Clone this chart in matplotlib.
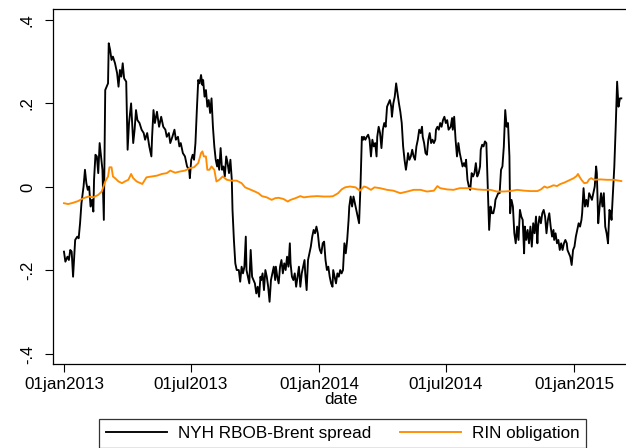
import matplotlib
matplotlib.use("Agg")
import matplotlib.pyplot as plt
import pandas as pd

plt.rcParams["font.family"] = ["Liberation Sans", "DejaVu Sans"]

# days since 01jan2013
spread_days = [
    0, 2, 5, 7, 9, 11, 13, 16, 19, 21, 23, 25, 28, 30, 32, 34, 36, 38, 40, 42,
    43, 45, 47, 49, 51, 53, 55, 57, 59, 61, 63, 64, 66, 68, 70, 73, 76, 78, 80, 82,
    84, 86, 89, 91, 93, 96, 99, 101, 103, 105, 108, 111, 114, 116, 119, 122, 125, 126, 128, 130,
    133, 136, 139, 142, 145, 147, 150, 152, 155, 158, 160, 163, 165, 167, 170, 173, 176, 179,
    180, 182, 184, 186, 188, 190, 192, 194, 196, 198, 199, 201, 203, 205, 207, 209, 211, 213, 215, 217,
    219, 220, 222, 224, 226, 228, 230, 232, 234, 236, 238, 240, 241, 243, 245, 247, 250, 252, 254, 256,
    258, 260, 261, 263, 265, 267, 269, 271, 273, 275, 277, 279, 281, 282, 284, 286, 288, 290, 292, 294,
    296, 298, 300, 302, 303, 305, 307, 309, 311, 313, 315, 317, 319, 321, 323, 324, 326, 328, 330, 332,
    334, 336, 338, 340, 342, 344, 345, 347, 349, 351, 353, 355, 357, 359, 361, 363, 365,
    366, 368, 370, 372, 374, 376, 378, 380, 382, 384, 385, 387, 389, 391, 393, 395, 397, 399, 401, 403,
    405, 407, 408, 410, 412, 414, 416, 418, 420, 422, 424, 426, 428, 429, 431, 433, 435, 437, 439, 441,
    443, 445, 447, 448, 450, 452, 454, 456, 458, 460, 462, 464, 466, 468, 469, 471, 473, 475, 477, 479,
    481, 483, 485, 487, 489, 491, 492, 494, 496, 498, 500, 502, 504, 506, 508, 510, 512, 513, 515, 517,
    519, 521, 523, 525, 527, 529, 531, 532, 534, 536, 538, 540, 542, 544, 546, 548, 550,
    553, 555, 556, 558, 560, 562, 564, 566, 568, 570, 572, 574, 575, 577, 579, 581, 583, 585, 587, 589,
    591, 593, 595, 596, 598, 600, 602, 604, 606, 608, 610, 612, 614, 616, 617, 619, 621, 623, 625, 627,
    629, 631, 633, 635, 637, 638, 640, 642, 644, 646, 648, 650, 652, 654, 656, 658, 659, 661, 663, 665,
    667, 669, 671, 673, 675, 677, 678, 680, 682, 684, 686, 688, 690, 692, 694, 696, 698, 700, 701, 703,
    705, 707, 709, 711, 713, 715, 717, 719, 720, 722, 724, 726, 728, 730, 732, 734, 736, 738, 740, 741,
    743, 745, 747, 749, 751, 753, 755, 757, 759, 761, 762, 764, 766, 768, 770, 772, 774, 776, 778, 780,
    782, 783, 785, 787, 789, 791, 793, 795, 797,
]
spread_vals = [
    -0.155, -0.179, -0.167, -0.175, -0.151, -0.155, -0.215, -0.127, -0.119, -0.123,
    -0.087, -0.039, 0.001, 0.041, 0.009, -0.007, 0.001, -0.047, -0.031, -0.059,
    0.017, 0.077, 0.073, 0.033, 0.105, 0.073, 0.041, -0.079, 0.232, 0.240,
    0.248, 0.344, 0.328, 0.304, 0.312, 0.296, 0.272, 0.240, 0.280, 0.264,
    0.296, 0.260, 0.252, 0.089, 0.153, 0.200, 0.105, 0.137, 0.184, 0.160,
    0.153, 0.137, 0.129, 0.113, 0.129, 0.097, 0.073, 0.120, 0.184, 0.153,
    0.180, 0.144, 0.168, 0.144, 0.137, 0.120, 0.129, 0.105, 0.120, 0.137,
    0.113, 0.120, 0.097, 0.105, 0.081, 0.073, 0.049, 0.041,
    0.021, 0.065, 0.077, 0.065, 0.105, 0.184, 0.256, 0.248, 0.268, 0.244,
    0.256, 0.216, 0.232, 0.192, 0.208, 0.177, 0.212, 0.144, 0.097, 0.065,
    0.049, 0.065, 0.041, 0.093, 0.041, 0.049, 0.025, 0.073, 0.057, 0.033,
    0.065, 0.017, -0.055, -0.127, -0.183, -0.199, -0.199, -0.227, -0.191, -0.207,
    -0.191, -0.119, -0.199, -0.215, -0.231, -0.151, -0.215, -0.223, -0.231, -0.255,
    -0.239, -0.263, -0.215, -0.223, -0.207, -0.247, -0.199, -0.215, -0.239, -0.275,
    -0.223, -0.207, -0.191, -0.223, -0.191, -0.215, -0.231, -0.191, -0.175, -0.207,
    -0.183, -0.199, -0.167, -0.191, -0.135, -0.183, -0.215, -0.223, -0.207, -0.239,
    -0.215, -0.191, -0.239, -0.207, -0.191, -0.175, -0.207, -0.247, -0.175, -0.159,
    -0.143, -0.119, -0.103, -0.111, -0.095, -0.111, -0.143,
    -0.151, -0.159, -0.135, -0.131, -0.175, -0.199, -0.191, -0.215, -0.231, -0.239,
    -0.199, -0.215, -0.231, -0.207, -0.215, -0.199, -0.207, -0.199, -0.135, -0.159,
    -0.127, -0.079, -0.047, -0.023, -0.047, -0.023, -0.039, -0.055, -0.071, -0.087,
    0.001, 0.120, 0.113, 0.120, 0.113, 0.120, 0.125, 0.113, 0.073, 0.113,
    0.097, 0.105, 0.073, 0.120, 0.144, 0.129, 0.093, 0.137, 0.153, 0.144,
    0.192, 0.200, 0.208, 0.192, 0.168, 0.200, 0.216, 0.248, 0.224, 0.200,
    0.180, 0.153, 0.097, 0.065, 0.041, 0.065, 0.081, 0.065, 0.073, 0.089,
    0.073, 0.065, 0.097, 0.113, 0.137, 0.129, 0.144, 0.120, 0.105, 0.081,
    0.077, 0.113, 0.129, 0.105, 0.113, 0.105, 0.113, 0.137, 0.144, 0.137,
    0.153, 0.144, 0.160, 0.168, 0.153, 0.160, 0.137,
    0.144, 0.165, 0.137, 0.168, 0.113, 0.073, 0.105, 0.081, 0.065, 0.049,
    0.057, 0.049, 0.065, 0.017, 0.001, -0.007, 0.033, 0.025, 0.033, 0.057,
    0.025, 0.033, 0.049, 0.089, 0.101, 0.097, 0.109, 0.105, 0.001, -0.103,
    -0.047, -0.063, -0.063, -0.047, -0.031, -0.023, -0.015, -0.015, 0.041, 0.049,
    0.097, 0.184, 0.144, 0.153, 0.073, -0.063, -0.031, -0.047, -0.111, -0.135,
    -0.095, -0.127, -0.055, -0.071, -0.079, -0.159, -0.095, -0.127, -0.103, -0.135,
    -0.095, -0.143, -0.087, -0.111, -0.071, -0.135, -0.095, -0.071, -0.087, -0.063,
    -0.055, -0.071, -0.111, -0.079, -0.063, -0.095, -0.119, -0.103, -0.127, -0.111,
    -0.135, -0.127, -0.151, -0.135, -0.151, -0.135, -0.127, -0.135, -0.151, -0.159,
    -0.167, -0.187, -0.151, -0.143, -0.119, -0.103, -0.087, -0.095, -0.079, -0.063,
    -0.003, -0.047, -0.031, -0.047, -0.015, -0.023, -0.031, -0.015, 0.001, 0.049,
    0.033, -0.087, -0.047, -0.015, -0.047, -0.015, -0.095, -0.111, -0.135, -0.055,
    -0.063, -0.079, -0.015, 0.049, 0.144, 0.252, 0.192, 0.212, 0.212,
]

rin_days = [
    0, 6, 13, 20, 28, 35, 42, 49, 54, 59, 63, 65, 68, 70, 73, 78, 83, 87, 92, 96,
    99, 104, 112, 118, 126, 133, 140, 147, 152, 159, 166, 173, 180, 186,
    192, 196, 198, 200, 203, 205, 208, 211, 215, 218, 222, 227, 233, 240, 247, 254,
    259, 266, 273, 278, 283, 290, 297, 302, 307, 314, 320, 324, 331, 338, 343, 352,
    362, 371, 380,
    385, 392, 397, 402, 409, 417, 423, 429, 433, 439, 444, 452, 462, 471, 481, 491,
    500, 510, 519, 529, 534, 538, 548, 557, 566,
    572, 581, 591, 600, 610, 619, 629, 638, 648, 658, 667, 677, 682, 687, 691, 696,
    700, 705, 710, 715, 719, 724, 729, 733, 735, 737, 740, 744, 748, 751, 754, 758,
    767, 777, 786, 797,
]
rin_vals = [
    -0.039, -0.041, -0.038, -0.034, -0.027, -0.023, -0.025, -0.019, -0.011, 0.013,
    0.025, 0.047, 0.047, 0.025, 0.021, 0.013, 0.009, 0.013, 0.017, 0.031,
    0.021, 0.013, 0.007, 0.023, 0.025, 0.027, 0.031, 0.033, 0.039, 0.034,
    0.037, 0.039, 0.045, 0.047,
    0.057, 0.081, 0.085, 0.073, 0.073, 0.041, 0.041, 0.049, 0.041, 0.013,
    0.017, 0.025, 0.017, 0.015, 0.015, 0.009,
    -0.001, -0.006, -0.011, -0.015, -0.022, -0.025, -0.031, -0.027, -0.026, -0.029,
    -0.035, -0.031, -0.027, -0.022, -0.025, -0.023,
    -0.022, -0.023, -0.023,
    -0.022, -0.015, -0.006, -0.001, 0.001, -0.001, -0.009, 0.001, -0.001, -0.007,
    -0.001, -0.003, -0.007, -0.009, -0.015, -0.011,
    -0.007, -0.007, -0.011, -0.009, 0.002, -0.003, -0.006, -0.007, -0.003,
    -0.003, -0.003, -0.006, -0.007, -0.007, -0.011, -0.011, -0.010, -0.007, -0.009,
    -0.010, -0.010, -0.006, 0.001, -0.002, 0.001,
    0.004, 0.002, 0.007, 0.010, 0.013, 0.017, 0.021, 0.026, 0.031, 0.025,
    0.017, 0.009, 0.010, 0.018, 0.021, 0.017,
    0.018, 0.017, 0.017, 0.014,
]

xtick_dates = ["2013-01-01", "2013-07-01", "2014-01-01", "2014-07-01", "2015-01-01"]
xtick_labels = ["01jan2013", "01jul2013", "01jan2014", "01jul2014", "01jan2015"]
ytick_vals = [-0.4, -0.2, 0, 0.2, 0.4]
ytick_labels = ["-.4", "-.2", "0", ".2", ".4"]

start = pd.Timestamp("2013-01-01")
spread_dates = start + pd.to_timedelta(spread_days, unit="D")
rin_dates = start + pd.to_timedelta(rin_days, unit="D")

fig = plt.figure(figsize=(6.26, 4.48), dpi=100)
ax = fig.add_axes([53 / 626, 1 - 364 / 448, 576 / 626, 355 / 448])

ax.plot(spread_dates, spread_vals, color="black", lw=1.35, label="NYH RBOB-Brent spread")
ax.plot(rin_dates, rin_vals, color="#ff8c00", lw=1.35, label="RIN obligation")

ax.set_xlim(start - pd.Timedelta(days=15.7), start + pd.Timedelta(days=808))
ax.set_ylim(-0.424, 0.426)

ax.set_xticks(pd.to_datetime(xtick_dates))
ax.set_xticklabels(xtick_labels, fontsize=12.3)
ax.set_yticks(ytick_vals)
ax.set_yticklabels(ytick_labels, fontsize=12, rotation=90, va="center")
ax.tick_params(length=6, width=0.8, pad=3)
ax.tick_params(axis="y", pad=7)
ax.set_xlabel("date", fontsize=12.3, labelpad=0)

for s in ax.spines.values():
    s.set_linewidth(0.9)

leg = fig.legend(loc="upper center", bbox_to_anchor=(342.5 / 626, 1 - 419 / 448),
                 ncol=2, fontsize=12.3, frameon=True, fancybox=False,
                 edgecolor="black", handlelength=3.6, handletextpad=0.6,
                 columnspacing=1.7, borderpad=0.4, borderaxespad=0)
leg.get_frame().set_linewidth(0.9)

fig.savefig("out.png", dpi=100)
